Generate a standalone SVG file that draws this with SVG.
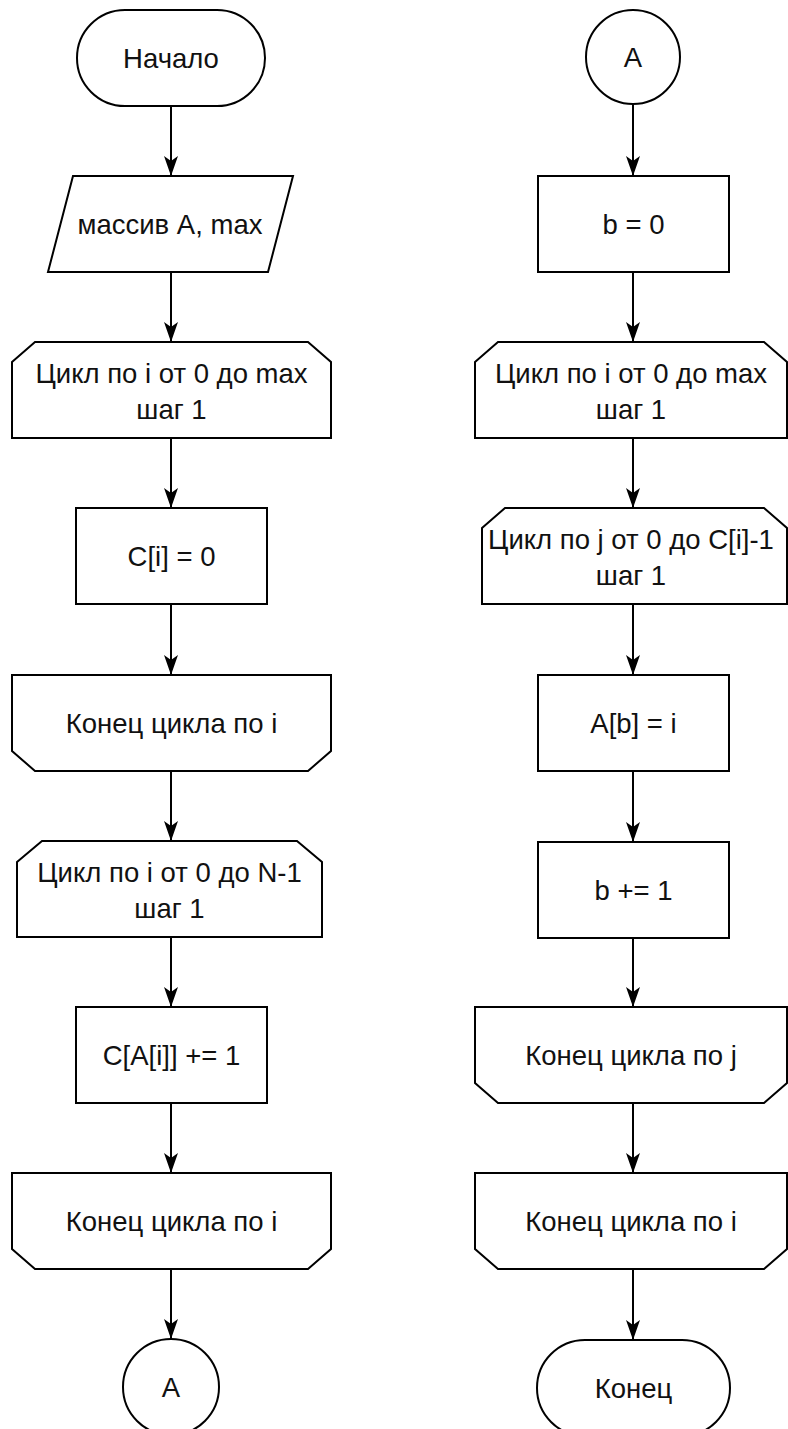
<svg xmlns="http://www.w3.org/2000/svg" width="788" height="1429" viewBox="0 0 788 1429">
<defs>
<style>
.s{fill:#fff;stroke:#000;stroke-width:2}
.t{font-family:"Liberation Sans",Arial,sans-serif;font-size:27.5px;fill:#111;text-anchor:middle}
.c{stroke:#000;stroke-width:2;fill:none}
</style>
<marker id="ah" markerUnits="userSpaceOnUse" markerWidth="20" markerHeight="14" refX="20" refY="7" orient="auto" viewBox="0 0 20 14">
<path d="M0,0 L20,7 L0,14 L5,7 z" fill="#000"/>
</marker>
</defs>
<rect width="788" height="1429" fill="#fff"/>
<g id="connectors">
<line class="c" x1="171" y1="106" x2="171" y2="176" marker-end="url(#ah)"/>
<line class="c" x1="171" y1="272" x2="171" y2="342" marker-end="url(#ah)"/>
<line class="c" x1="171" y1="438" x2="171" y2="508" marker-end="url(#ah)"/>
<line class="c" x1="171" y1="604" x2="171" y2="675" marker-end="url(#ah)"/>
<line class="c" x1="171" y1="771" x2="171" y2="841" marker-end="url(#ah)"/>
<line class="c" x1="171" y1="937" x2="171" y2="1007" marker-end="url(#ah)"/>
<line class="c" x1="171" y1="1103" x2="171" y2="1173" marker-end="url(#ah)"/>
<line class="c" x1="171" y1="1269" x2="171" y2="1339" marker-end="url(#ah)"/>
<line class="c" x1="633" y1="104" x2="633" y2="176" marker-end="url(#ah)"/>
<line class="c" x1="633" y1="272" x2="633" y2="342" marker-end="url(#ah)"/>
<line class="c" x1="633" y1="438" x2="633" y2="508" marker-end="url(#ah)"/>
<line class="c" x1="633" y1="604" x2="633" y2="675" marker-end="url(#ah)"/>
<line class="c" x1="633" y1="771" x2="633" y2="842" marker-end="url(#ah)"/>
<line class="c" x1="633" y1="938" x2="633" y2="1007" marker-end="url(#ah)"/>
<line class="c" x1="633" y1="1103" x2="633" y2="1173" marker-end="url(#ah)"/>
<line class="c" x1="633" y1="1269" x2="633" y2="1340" marker-end="url(#ah)"/>
</g>
<g id="start">
<rect class="s" x="77" y="10" width="188" height="96" rx="48" ry="48"/>
<text class="t" x="171" y="68">Начало</text>
</g>
<g id="input">
<polygon class="s" points="73,176 293,176 268,272 48,272"/>
<text class="t" x="170" y="234">массив A, max</text>
</g>
<g id="loop1">
<polygon class="s" points="12,362 35,342 308,342 331,362 331,438 12,438"/>
<text class="t" x="171.5" y="383">Цикл по i от 0 до max</text>
<text class="t" x="171.5" y="419">шаг 1</text>
</g>
<g id="c0">
<rect class="s" x="76" y="508" width="191" height="96"/>
<text class="t" x="171.5" y="566">C[i] = 0</text>
</g>
<g id="end1">
<polygon class="s" points="12,675 331,675 331,751 308,771 35,771 12,751"/>
<text class="t" x="171.5" y="733">Конец цикла по i</text>
</g>
<g id="loop2">
<polygon class="s" points="17,862 42,841 297,841 322,862 322,937 17,937"/>
<text class="t" x="169.5" y="882">Цикл по i от 0 до N-1</text>
<text class="t" x="169.5" y="918">шаг 1</text>
</g>
<g id="inc">
<rect class="s" x="76" y="1007" width="191" height="96"/>
<text class="t" x="171.5" y="1065">C[A[i]] += 1</text>
</g>
<g id="end2">
<polygon class="s" points="12,1173 331,1173 331,1249 308,1269 35,1269 12,1249"/>
<text class="t" x="171.5" y="1231">Конец цикла по i</text>
</g>
<g id="connA1">
<circle class="s" cx="171" cy="1387" r="48"/>
<text class="t" x="171" y="1397">A</text>
</g>
<g id="connA2">
<circle class="s" cx="633" cy="57" r="47"/>
<text class="t" x="633" y="67">A</text>
</g>
<g id="b0">
<rect class="s" x="538" y="176" width="191" height="96"/>
<text class="t" x="633.5" y="234">b = 0</text>
</g>
<g id="loop3">
<polygon class="s" points="475,362 498,342 764,342 787,362 787,438 475,438"/>
<text class="t" x="631" y="383">Цикл по i от 0 до max</text>
<text class="t" x="631" y="419">шаг 1</text>
</g>
<g id="loop4">
<polygon class="s" points="482,528 505,508 764,508 787,528 787,604 482,604"/>
<text class="t" x="631" y="549">Цикл по j от 0 до C[i]-1</text>
<text class="t" x="631" y="585">шаг 1</text>
</g>
<g id="assign">
<rect class="s" x="538" y="675" width="191" height="96"/>
<text class="t" x="633.5" y="733">A[b] = i</text>
</g>
<g id="binc">
<rect class="s" x="538" y="842" width="191" height="96"/>
<text class="t" x="633.5" y="900">b += 1</text>
</g>
<g id="end3">
<polygon class="s" points="475,1007 787,1007 787,1083 764,1103 498,1103 475,1083"/>
<text class="t" x="631" y="1065">Конец цикла по j</text>
</g>
<g id="end4">
<polygon class="s" points="475,1173 787,1173 787,1249 764,1269 498,1269 475,1249"/>
<text class="t" x="631" y="1231">Конец цикла по i</text>
</g>
<g id="end">
<rect class="s" x="537" y="1340" width="193" height="96" rx="48" ry="48"/>
<text class="t" x="633.5" y="1398">Конец</text>
</g>
</svg>
